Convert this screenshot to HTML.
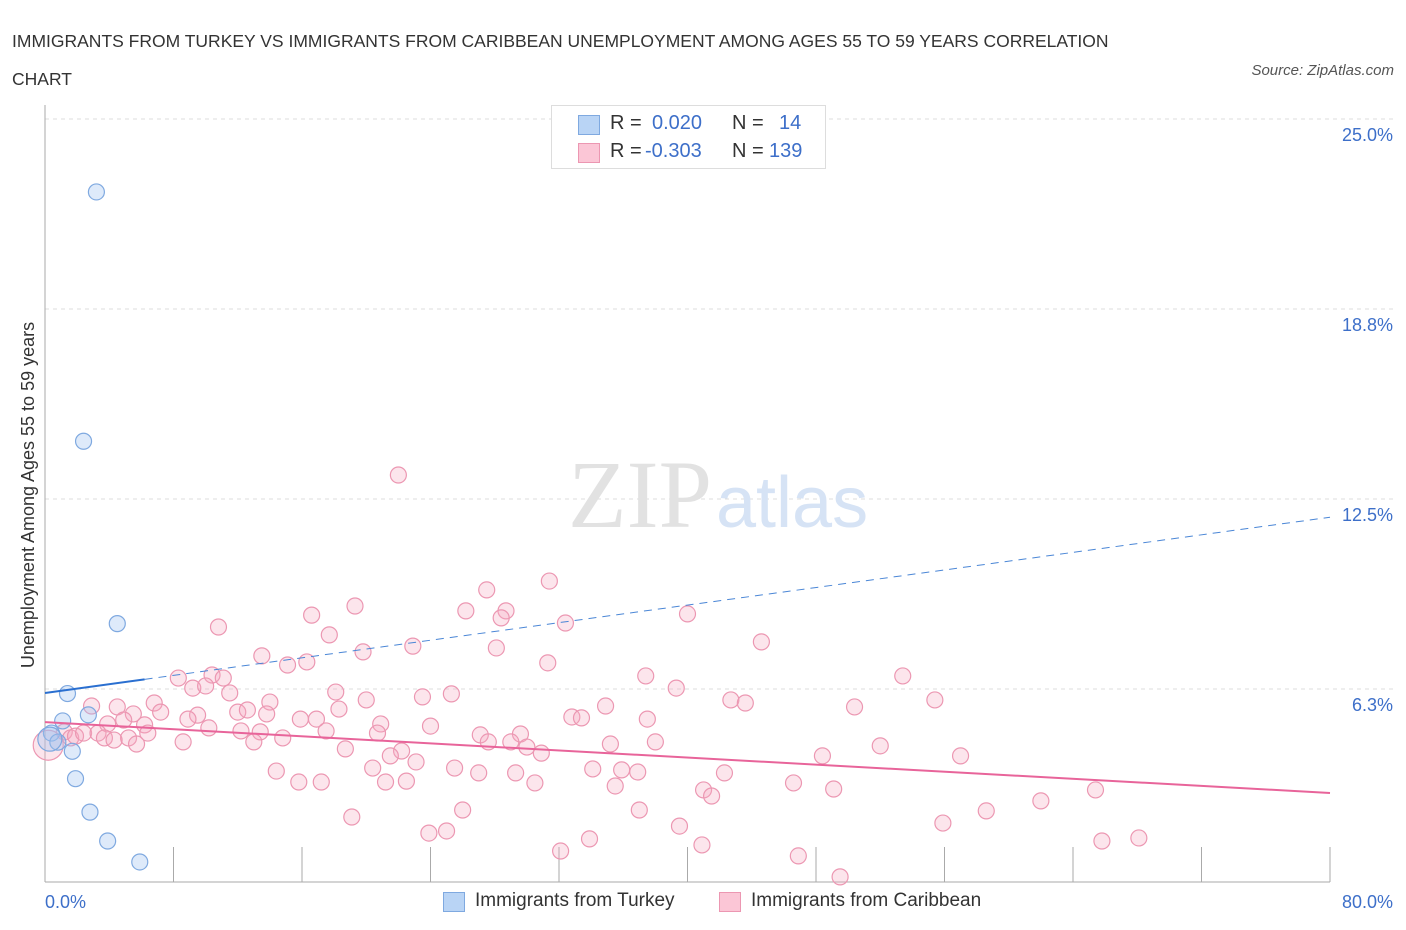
<!DOCTYPE html>
<html><head><meta charset="utf-8"><style>
body{margin:0;background:#fff;font-family:"Liberation Sans",sans-serif;}
#wrap{position:relative;width:1406px;height:930px;overflow:hidden;}
.t{position:absolute;white-space:nowrap;}
</style></head><body>
<div id="wrap">
<div class="t" style="left:12px;top:22px;font-size:17.5px;color:#333;line-height:38px;">IMMIGRANTS FROM TURKEY VS IMMIGRANTS FROM CARIBBEAN UNEMPLOYMENT AMONG AGES 55 TO 59 YEARS CORRELATION<br>CHART</div>
<div class="t" style="right:12px;top:62px;font-size:15px;color:#555;font-style:italic;">Source: ZipAtlas.com</div>
<svg id="chart" width="1406" height="930" style="position:absolute;left:0;top:0"></svg>
<div style="position:absolute;left:551px;top:105px;width:273px;height:62px;border:1px solid #ddd;background:#fff;font-size:20px;">
 <div style="position:absolute;left:26px;top:9px;width:20px;height:18px;background:#b9d4f5;border:1px solid #7fa9e0"></div>
 <div class="t" style="left:58px;top:6px;color:#333">R =</div><div class="t" style="left:100px;top:6px;color:#3d6fc9">0.020</div>
 <div class="t" style="left:180px;top:6px;color:#333">N =</div><div class="t" style="left:227px;top:6px;color:#3d6fc9">14</div>
 <div style="position:absolute;left:26px;top:37px;width:20px;height:18px;background:#fbc6d6;border:1px solid #ec97b2"></div>
 <div class="t" style="left:58px;top:34px;color:#333">R =</div><div class="t" style="left:93px;top:34px;color:#3d6fc9">-0.303</div>
 <div class="t" style="left:180px;top:34px;color:#333">N =</div><div class="t" style="left:217px;top:34px;color:#3d6fc9">139</div>
</div>
<div style="position:absolute;left:443px;top:890px;font-size:19px;color:#333;">
 <div style="position:absolute;left:0;top:2px;width:20px;height:18px;background:#b9d4f5;border:1px solid #7fa9e0"></div>
 <div class="t" style="left:32px;top:0">Immigrants from Turkey</div>
 <div style="position:absolute;left:276px;top:2px;width:20px;height:18px;background:#fbc6d6;border:1px solid #ec97b2"></div>
 <div class="t" style="left:308px;top:0">Immigrants from Caribbean</div>
</div>
</div>
<script>
const yTicks=[25,18.75,12.5,6.25];
const yTickLabels=["25.0%","18.8%","12.5%","6.3%"];
const xTickLabels=["0.0%","80.0%"];
const turkeyX=[3.2,2.4,4.5,1.4,1.1,2.7,0.4,0.8,1.7,1.9,2.8,3.9,5.9,0.3];
const turkeyY=[22.6,14.4,8.4,6.1,5.2,5.4,4.8,4.5,4.2,3.3,2.2,1.25,0.56,4.6];
const caribX=[22.0,31.4,27.5,19.3,26.2,28.7,16.6,28.4,32.4,40.0,10.8,17.7,44.6,22.9,28.1,19.8,13.5,31.3,15.1,16.3,8.3,10.4,11.1,37.4,53.4,9.2,10.0,11.5,18.1,23.5,25.3,39.3,42.7,55.4,14.0,20.0,34.9,43.6,50.4,2.9,4.5,6.8,7.2,5.5,9.5,12.0,12.6,13.8,15.9,16.9,18.3,32.8,33.4,37.5,4.9,6.2,3.9,8.9,20.9,24.0,12.2,13.4,17.5,20.7,27.1,29.6,1.2,1.6,1.9,2.4,3.3,3.7,5.2,6.4,4.3,5.7,8.6,10.2,13.0,14.8,27.6,29.0,30.0,35.2,38.0,52.0,18.7,22.2,21.5,30.9,57.0,48.4,23.1,14.4,20.4,25.5,27.0,29.3,34.1,35.9,36.9,42.3,15.8,17.2,21.2,22.5,30.5,35.5,41.0,41.5,46.6,49.1,65.4,62.0,19.1,26.0,37.0,58.6,23.9,25.0,39.5,55.9,33.9,40.9,65.8,68.1,32.1,46.9,49.5,0.2];
const caribY=[13.29,9.80,9.51,8.98,8.82,8.82,8.68,8.59,8.42,8.72,8.29,8.03,7.80,7.66,7.60,7.47,7.34,7.11,7.04,7.14,6.61,6.71,6.61,6.68,6.68,6.28,6.35,6.12,6.15,5.99,6.09,6.28,5.89,5.89,5.82,5.89,5.69,5.79,5.66,5.69,5.66,5.79,5.49,5.43,5.39,5.49,5.56,5.43,5.26,5.26,5.59,5.33,5.30,5.26,5.23,5.07,5.10,5.26,5.10,5.03,4.87,4.84,4.87,4.80,4.74,4.77,4.84,4.64,4.70,4.80,4.80,4.64,4.64,4.80,4.57,4.44,4.51,4.97,4.51,4.64,4.51,4.51,4.34,4.44,4.51,4.38,4.28,4.21,4.05,4.14,4.05,4.05,3.85,3.55,3.65,3.65,3.49,3.49,3.62,3.59,3.52,3.49,3.19,3.19,3.19,3.22,3.16,3.06,2.93,2.73,3.16,2.96,2.93,2.57,2.04,2.27,2.27,2.24,1.51,1.58,1.74,1.84,1.32,1.12,1.25,1.35,0.92,0.76,0.07,4.4];
const turkeyTrend=[6.12,11.9];
const caribTrend=[5.16,2.83];
const X0=45,X1=1330,Y0=879;
const sx=v=>X0+v*(X1-X0)/80;
const sy=v=>Y0-v*30.4;
const svg=document.getElementById('chart');
const NS='http://www.w3.org/2000/svg';
function mk(tag,attrs){const e=document.createElementNS(NS,tag);for(const k in attrs)e.setAttribute(k,attrs[k]);svg.appendChild(e);return e;}
yTicks.forEach((t,i)=>{
 const g=mk('line',{x1:X0,x2:1395,y1:sy(t),y2:sy(t),stroke:'#ddd','stroke-dasharray':'4,4'});
 
 
 const l=mk('text',{x:1393,y:sy(t)+22,'text-anchor':'end','font-size':18,fill:'#3d6fc9','font-family':'Liberation Sans'});
 l.textContent=yTickLabels[i];
 
 
});
const ax=mk('line',{x1:X0,x2:X0,y1:105,y2:882,stroke:'#aaa'});


const bx=mk('line',{x1:X0,x2:1330,y1:882,y2:882,stroke:'#aaa'});


for(let i=0;i<=10;i++){
 const tk=mk('line',{x1:sx(i*8),x2:sx(i*8),y1:847,y2:882,stroke:'#aaa'});
 
 
}
[[0,'start',45],[80,'end',1393]].forEach((d,i)=>{
 const l=mk('text',{x:d[2],y:908,'text-anchor':d[1],'font-size':18,fill:'#3d6fc9','font-family':'Liberation Sans'});
 l.textContent=xTickLabels[i];
 
 
});
const yt=mk('text',{transform:'translate(34,495) rotate(-90)','text-anchor':'middle','font-size':18,fill:'#333','font-family':'Liberation Sans'});
yt.textContent='Unemployment Among Ages 55 to 59 years';


const w1=mk('text',{x:712,y:527,'text-anchor':'end','font-size':96,fill:'#e2e2e2','font-family':'Liberation Serif'});
w1.textContent='ZIP';


const w2=mk('text',{x:716,y:527,'font-size':72,fill:'#d6e3f5','font-family':'Liberation Sans'});
w2.textContent='atlas';


caribX.forEach((x,i)=>{
 const c=mk('circle',{cx:sx(x),cy:sy(caribY[i]),r:i===caribX.length-1?15:8,fill:'rgba(246,168,192,0.3)',stroke:'#ec97b2','stroke-width':1.2});
 
 
});
turkeyX.forEach((x,i)=>{
 const c=mk('circle',{cx:sx(x),cy:sy(turkeyY[i]),r:i===turkeyX.length-1?12:8,fill:'rgba(160,196,240,0.35)',stroke:'#7fa9e0','stroke-width':1.2});
 
 
});
const tAt=x=>turkeyTrend[0]+(turkeyTrend[1]-turkeyTrend[0])*x/80;
const t1=mk('line',{x1:sx(0),y1:sy(tAt(0)),x2:sx(6.2),y2:sy(tAt(6.2)),stroke:'#2a6fd0','stroke-width':2});


const t2=mk('line',{x1:sx(6.2),y1:sy(tAt(6.2)),x2:sx(80),y2:sy(tAt(80)),stroke:'#4a86d6','stroke-width':1,'stroke-dasharray':'8,6'});


const c1=mk('line',{x1:sx(0),y1:sy(caribTrend[0]),x2:sx(80),y2:sy(caribTrend[1]),stroke:'#e8649a','stroke-width':2});


</script>
</body></html>
